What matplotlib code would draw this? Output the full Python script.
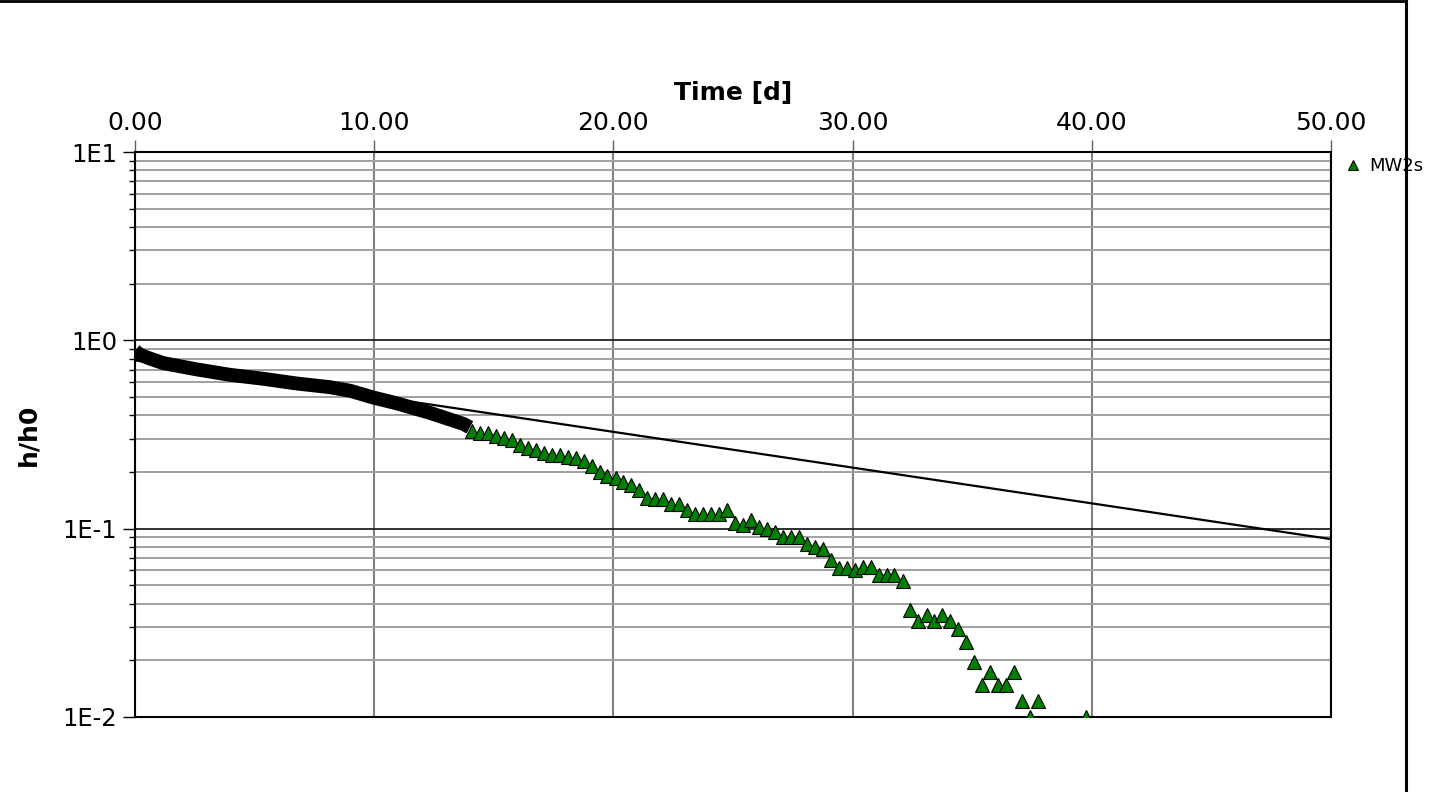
import matplotlib
matplotlib.use("Agg")
import matplotlib.pyplot as plt
from matplotlib.lines import Line2D
from matplotlib.ticker import FixedLocator, NullFormatter

# dense early record (t < 14 d), read as band centre
t_early = [0.0, 0.2, 0.63, 1.18, 2.58, 3.97, 5.36, 6.76, 8.15, 8.99, 9.96, 10.94, 12.33, 13.73, 14.0]
h_early = [0.88, 0.84, 0.80, 0.757, 0.701, 0.656, 0.625, 0.590, 0.564, 0.540, 0.497, 0.463, 0.412, 0.360, 0.345]

# sparse MW2s readings (every ~8 h)
t_mw2s = [14.09, 14.42, 14.75, 15.09, 15.42, 15.75, 16.09, 16.42, 16.75, 17.09,
          17.42, 17.75, 18.09, 18.42, 18.75, 19.09, 19.42, 19.75, 20.09, 20.42,
          20.75, 21.09, 21.42, 21.75, 22.09, 22.42, 22.75, 23.09, 23.42, 23.75,
          24.09, 24.42, 24.75, 25.09, 25.42, 25.75, 26.09, 26.42, 26.75, 27.09,
          27.42, 27.75, 28.09, 28.42, 28.75, 29.09, 29.42, 29.75, 30.09, 30.42,
          30.75, 31.09, 31.42, 31.75, 32.09, 32.42, 32.75, 33.09, 33.42, 33.75,
          34.09, 34.42, 34.75, 35.09, 35.42, 35.75, 36.09, 36.42, 36.75, 37.09,
          37.42, 37.75, 39.75]
h_mw2s = [0.332, 0.321, 0.321, 0.312, 0.303, 0.296, 0.278, 0.267, 0.262, 0.252,
          0.246, 0.247, 0.239, 0.236, 0.229, 0.215, 0.200, 0.191, 0.186, 0.178,
          0.171, 0.160, 0.146, 0.143, 0.143, 0.135, 0.135, 0.125, 0.119, 0.119,
          0.119, 0.120, 0.126, 0.107, 0.105, 0.111, 0.102, 0.099, 0.096, 0.090,
          0.090, 0.090, 0.083, 0.080, 0.078, 0.068, 0.062, 0.062, 0.060, 0.0625,
          0.0625, 0.057, 0.057, 0.057, 0.0526, 0.0372, 0.0322, 0.0350, 0.0322, 0.0350,
          0.0322, 0.0295, 0.0249, 0.0197, 0.0147, 0.0173, 0.0147, 0.0147, 0.0173, 0.0122,
          0.0100, 0.0122, 0.0100]

# straight-line fit
t_fit = [0.0, 50.0]
h_fit = [0.783, 0.088]

x_ticks = [0, 10, 20, 30, 40, 50]
x_labels = ["0.00", "10.00", "20.00", "30.00", "40.00", "50.00"]
y_ticks = [1e-2, 1e-1, 1e0, 1e1]
y_labels = ["1E-2", "1E-1", "1E0", "1E1"]

plt.rcParams["font.family"] = ["DejaVu Sans"]

fig = plt.figure(figsize=(14.41, 7.92), dpi=100)
ax = fig.add_axes([135/1441, 1-717/792, (1331-135)/1441, (717-152)/792])

ax.set_yscale("log")
ax.set_xlim(0, 50)
ax.set_ylim(1e-2, 1e1)

# grid
ax.yaxis.set_minor_locator(FixedLocator([m*10.0**e for e in (-2, -1, 0) for m in range(2, 10)]))
ax.yaxis.set_minor_formatter(NullFormatter())
ax.grid(which="minor", axis="y", color="#a0a0a0", lw=1.4)
ax.grid(which="major", axis="y", color="#202020", lw=1.3)
ax.grid(which="major", axis="x", color="#808080", lw=1.5)
ax.set_axisbelow(True)

ax.plot(t_fit, h_fit, color="black", lw=1.6, zorder=3)
ax.plot(t_early, h_early, color="black", lw=10, solid_capstyle="butt",
        solid_joinstyle="round", zorder=4)
ax.plot(t_mw2s, h_mw2s, ls="none", marker="^", ms=9.5, mfc="#008000", mec="black",
        mew=0.8, zorder=5, label="MW2s")

ax.set_xticks(x_ticks)
ax.set_xticklabels(x_labels)
ax.set_yticks(y_ticks)
ax.set_yticklabels(y_labels)
ax.xaxis.tick_top()
ax.xaxis.set_label_position("top")
ax.tick_params(axis="x", which="major", direction="out", length=9, width=1, pad=3,
               labelsize=18, color="#606060")
ax.tick_params(axis="y", which="major", direction="out", length=9, width=1, pad=4,
               labelsize=17.5)
ax.tick_params(axis="y", which="minor", direction="out", length=4.5, width=1)
for s in ax.spines.values():
    s.set_color("black")
    s.set_linewidth(1.5)

ax.set_xlabel("Time [d]", fontsize=18, fontweight="bold", labelpad=8)
ax.set_ylabel("h/h0", fontsize=18, fontweight="bold", labelpad=16)

ax.legend(loc="center left", bbox_to_anchor=(1344/1441, 1-166/792),
          bbox_transform=fig.transFigure, frameon=False, fontsize=13,
          handlelength=1.0, handletextpad=0.4, borderpad=0, borderaxespad=0,
          markerscale=0.8)

# outer frame (top and right edges)
fig.add_artist(Line2D([0, 1406/1441], [1-1/792, 1-1/792], transform=fig.transFigure,
                      color="black", lw=2))
fig.add_artist(Line2D([1406/1441, 1406/1441], [0, 1], transform=fig.transFigure,
                      color="black", lw=2.2))

fig.savefig("out.png", dpi=100)
